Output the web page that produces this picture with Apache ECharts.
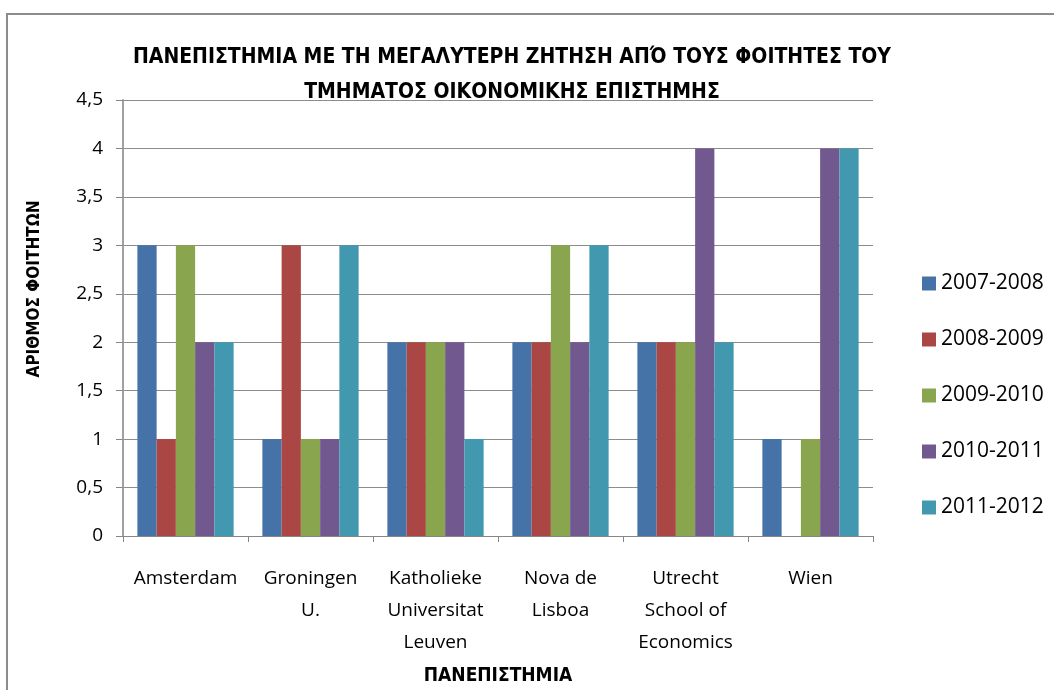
<!DOCTYPE html>
<html>
<head>
<meta charset="utf-8">
<script src="https://cdn.jsdelivr.net/npm/echarts@6/dist/echarts.min.js"></script>
<style>
  html, body { margin: 0; padding: 0; background: #fff; }
  #chart { width: 1054px; height: 690px; }
</style>
</head>
<body>
<div id="chart"></div>
<script>
// universities (x categories)
const universities = [
  'Amsterdam',
  'Groningen\nU.',
  'Katholieke\nUniversitat\nLeuven',
  'Nova de\nLisboa',
  'Utrecht\nSchool of\nEconomics',
  'Wien'
];
const years = ['2007-2008', '2008-2009', '2009-2010', '2010-2011', '2011-2012'];

// students per academic year
const y2007 = [3, 1, 2, 2, 2, 1];
const y2008 = [1, 3, 2, 2, 2, 0];
const y2009 = [3, 1, 2, 3, 2, 1];
const y2010 = [2, 1, 2, 2, 4, 4];
const y2011 = [2, 3, 1, 3, 2, 4];

const colors = ['#4572A7', '#AA4643', '#89A54E', '#71588F', '#4198AF'];
const font = '"Open Sans", sans-serif';
const condensed = '"DejaVu Sans Condensed", "Open Sans", sans-serif';

const chart = echarts.init(document.getElementById('chart'));

const series = [y2007, y2008, y2009, y2010, y2011].map((d, i) => ({
  name: years[i],
  type: 'bar',
  data: d,
  barGap: '0%',
  barCategoryGap: '23%',
  itemStyle: { color: colors[i] }
}));

chart.setOption({
  animation: false,
  color: colors,
  textStyle: { fontFamily: font },
  graphic: [{
    type: 'rect',
    shape: { x: 7, y: 14, width: 1100, height: 800 },
    style: { fill: 'none', stroke: '#8c8c8c', lineWidth: 2 },
    silent: true
  }],
  title: {
    text: 'ΠΑΝΕΠΙΣΤΗΜΙΑ ΜΕ ΤΗ ΜΕΓΑΛΥΤΕΡΗ ΖΗΤΗΣΗ ΑΠΌ ΤΟΥΣ ΦΟΙΤΗΤΕΣ ΤΟΥ\nΤΜΗΜΑΤΟΣ ΟΙΚΟΝΟΜΙΚΗΣ ΕΠΙΣΤΗΜΗΣ',
    left: 507,
    textAlign: 'center',
    top: 35,
    textStyle: {
      fontFamily: condensed,
      fontSize: 21,
      fontWeight: 'bold',
      color: '#000',
      lineHeight: 35
    }
  },
  legend: {
    orient: 'vertical',
    left: 917,
    top: 268,
    itemWidth: 14,
    itemHeight: 14,
    itemGap: 35,
    icon: 'rect',
    textStyle: { fontFamily: font, fontSize: 21, color: '#000', padding: [0, 0, 0, 0] }
  },
  grid: {
    left: 123,
    right: 181,
    top: 100,
    bottom: 154,
    outerBoundsMode: 'none'
  },
  xAxis: {
    type: 'category',
    data: universities,
    name: 'ΠΑΝΕΠΙΣΤΗΜΙΑ',
    nameLocation: 'middle',
    nameGap: 131,
    nameTextStyle: { fontFamily: condensed, fontSize: 19, fontWeight: 'bold', color: '#000' },
    axisLine: { lineStyle: { color: '#868686', width: 1 } },
    axisTick: { show: true, length: 6, lineStyle: { color: '#868686' } },
    axisLabel: {
      interval: 0,
      fontFamily: font,
      fontSize: 19,
      color: '#000',
      lineHeight: 32,
      margin: 27
    }
  },
  yAxis: {
    type: 'value',
    min: 0,
    max: 4.5,
    interval: 0.5,
    name: 'ΑΡΙΘΜΟΣ ΦΟΙΤΗΤΩΝ',
    nameLocation: 'middle',
    nameGap: 80,
    nameRotate: 90,
    nameTextStyle: {
      fontFamily: condensed,
      fontSize: 17,
      fontWeight: 'bold',
      color: '#000',
      padding: [0, 0, 0, 58]
    },
    axisLine: { show: true, lineStyle: { color: '#a0a0a0', width: 2 } },
    axisTick: { show: true, length: 7, lineStyle: { color: '#868686' } },
    splitLine: { lineStyle: { color: '#8c8c8c', width: 1 } },
    axisLabel: {
      fontFamily: font,
      fontSize: 19,
      color: '#000',
      margin: 20,
      formatter: v => String(v).replace('.', ',')
    }
  },
  series: series
});
</script>
</body>
</html>
